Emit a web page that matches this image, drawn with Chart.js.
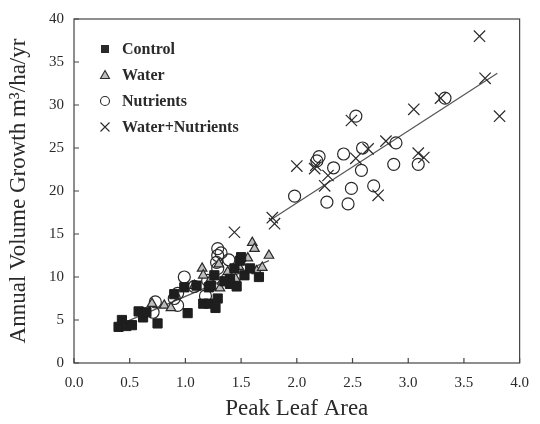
<!DOCTYPE html>
<html>
<head>
<meta charset="utf-8">
<script src="https://cdn.jsdelivr.net/npm/chart.js@4.4.1/dist/chart.umd.min.js"></script>
<style>
html, body { margin: 0; padding: 0; background: #fff; }
</style>
</head>
<body>
<canvas id="crescimento" width="540" height="424"></canvas>
<script>
// tick labels
var xTicks = ['0.0', '0.5', '1.0', '1.5', '2.0', '2.5', '3.0', '3.5', '4.0'];
var yTicks = ['0', '5', '10', '15', '20', '25', '30', '35', '40'];

// Control (filled squares)
var controlX = [0.40, 0.43, 0.47, 0.52, 0.58, 0.62, 0.65, 0.75, 0.90, 0.99, 1.02, 1.10, 1.16, 1.21, 1.27, 1.29, 1.21, 1.26, 1.40, 1.40, 1.46, 1.44, 1.49, 1.53, 1.58, 1.66, 1.50, 1.35, 1.23];
var controlY = [4.2, 5.0, 4.3, 4.4, 6.0, 5.3, 5.9, 4.6, 8.0, 8.8, 5.8, 9.0, 6.9, 6.9, 6.4, 7.5, 8.8, 10.2, 9.8, 9.2, 8.9, 11.0, 11.9, 10.2, 11.0, 10.0, 12.3, 9.5, 9.0];

// Water (triangles)
var waterX = [0.70, 0.81, 0.87, 1.08, 1.15, 1.16, 1.22, 1.31, 1.33, 1.38, 1.45, 1.48, 1.56, 1.60, 1.62, 1.64, 1.69, 1.75, 1.30];
var waterY = [6.9, 6.7, 6.4, 9.0, 11.0, 10.2, 9.6, 8.7, 9.5, 10.6, 9.8, 11.2, 12.2, 14.0, 13.3, 10.7, 11.1, 12.5, 11.5];

// Nutrients (open circles)
var nutrientsX = [0.71, 0.73, 0.90, 0.93, 0.93, 0.99, 1.08, 1.18, 1.20, 1.28, 1.29, 1.29, 1.29, 1.32, 1.39,
                  1.98, 2.18, 2.20, 2.33, 2.27, 2.46, 2.49, 2.58, 2.59, 2.42, 2.53, 2.89, 2.87, 3.09, 2.69, 3.33];
var nutrientsY = [5.9, 7.1, 7.5, 6.7, 8.1, 10.0, 8.9, 7.8, 9.6, 11.7, 11.0, 12.5, 13.3, 12.8, 12.0,
                  19.4, 23.5, 24.0, 22.7, 18.7, 18.5, 20.3, 22.4, 25.0, 24.3, 28.7, 25.6, 23.1, 23.1, 20.6, 30.8];

// Water+Nutrients (crosses)
var wnX = [1.44, 1.78, 1.80, 2.00, 2.16, 2.28, 2.25, 2.53, 2.64, 2.49, 2.80, 2.73, 3.05, 3.09, 3.14, 3.29, 3.64, 3.69, 3.82, 2.17];
var wnY = [15.2, 16.9, 16.2, 22.9, 22.6, 21.8, 20.6, 23.8, 24.9, 28.2, 25.8, 19.5, 29.5, 24.4, 23.9, 30.8, 38.0, 33.1, 28.7, 23.0];

// fitted lines (end points)
var fitLowX = [0.45, 1.75];
var fitLowY = [4.7, 11.9];
var fitHighX = [1.76, 3.80];
var fitHighY = [16.6, 33.7];

function pontos(xs, ys) {
    return xs.map(function (x, i) { return { x: x, y: ys[i] }; });
}

var tinta = '#2a2a2a';
var serif = '"Liberation Serif", "Times New Roman", serif';

// legend drawn inside the plot + box + inward ticks
var moldura = {
    id: 'moldura',
    afterDraw: function (chart) {
        var ctx = chart.ctx;
        var a = chart.chartArea;
        ctx.save();
        ctx.strokeStyle = '#444';
        ctx.lineWidth = 1.2;
        ctx.strokeRect(a.left, a.top, a.right - a.left, a.bottom - a.top);

        var sx = chart.scales.x, sy = chart.scales.y;
        ctx.beginPath();
        sx.ticks.forEach(function (t) {
            var px = sx.getPixelForValue(t.value);
            ctx.moveTo(px, a.bottom);
            ctx.lineTo(px, a.bottom - 5);
        });
        sy.ticks.forEach(function (t) {
            var py = sy.getPixelForValue(t.value);
            ctx.moveTo(a.left, py);
            ctx.lineTo(a.left + 5, py);
        });
        ctx.stroke();

        // legend
        var itens = ['Control', 'Water', 'Nutrients', 'Water+Nutrients'];
        var mx = 105, tx = 122, y0 = 49, dy = 26;
        ctx.font = 'bold 16px ' + serif;
        ctx.textBaseline = 'middle';
        itens.forEach(function (txt, i) {
            var y = y0 + i * dy;
            ctx.strokeStyle = tinta;
            ctx.lineWidth = 1.1;
            ctx.fillStyle = tinta;
            if (i === 0) {
                ctx.fillRect(mx - 4, y - 4, 8, 8);
            } else if (i === 1) {
                ctx.beginPath();
                ctx.moveTo(mx, y - 4.5);
                ctx.lineTo(mx + 4.5, y + 3.5);
                ctx.lineTo(mx - 4.5, y + 3.5);
                ctx.closePath();
                ctx.fillStyle = '#bdbdbd';
                ctx.fill();
                ctx.stroke();
            } else if (i === 2) {
                ctx.beginPath();
                ctx.arc(mx, y, 4.5, 0, Math.PI * 2);
                ctx.stroke();
            } else {
                ctx.beginPath();
                ctx.moveTo(mx - 4.5, y - 4.5);
                ctx.lineTo(mx + 4.5, y + 4.5);
                ctx.moveTo(mx + 4.5, y - 4.5);
                ctx.lineTo(mx - 4.5, y + 4.5);
                ctx.stroke();
            }
            ctx.fillStyle = tinta;
            ctx.fillText(txt, tx, y + 1);
        });
        ctx.restore();
    }
};

var ctx = document.getElementById('crescimento').getContext('2d');
var grafico = new Chart(ctx, {
    type: 'scatter',
    data: {
        datasets: [{
            label: 'Control',
            data: pontos(controlX, controlY),
            pointStyle: 'rect',
            pointRadius: 6.5,
            backgroundColor: '#1e1e1e',
            borderColor: '#1e1e1e',
            borderWidth: 1
        }, {
            label: 'Water',
            data: pontos(waterX, waterY),
            pointStyle: 'triangle',
            pointRadius: 5.5,
            backgroundColor: '#bdbdbd',
            borderColor: tinta,
            borderWidth: 1.2
        }, {
            label: 'Nutrients',
            data: pontos(nutrientsX, nutrientsY),
            pointStyle: 'circle',
            pointRadius: 6,
            backgroundColor: 'rgba(255,255,255,0)',
            borderColor: tinta,
            borderWidth: 1.2
        }, {
            label: 'Water+Nutrients',
            data: pontos(wnX, wnY),
            pointStyle: 'crossRot',
            pointRadius: 8,
            borderColor: tinta,
            borderWidth: 1.2
        }, {
            type: 'line',
            label: 'fit low',
            data: pontos(fitLowX, fitLowY),
            borderColor: '#555',
            borderWidth: 1.2,
            pointRadius: 0,
            fill: false
        }, {
            type: 'line',
            label: 'fit high',
            data: pontos(fitHighX, fitHighY),
            borderColor: '#555',
            borderWidth: 1.2,
            pointRadius: 0,
            fill: false
        }]
    },
    options: {
        responsive: false,
        animation: false,
        layout: { padding: { top: 18, right: 16, left: 0, bottom: 0 } },
        plugins: {
            legend: { display: false },
            tooltip: { enabled: false }
        },
        scales: {
            x: {
                type: 'linear',
                min: 0,
                max: 4,
                grid: { display: false, drawTicks: false },
                border: { display: false },
                ticks: {
                    stepSize: 0.5,
                    padding: 11,
                    color: tinta,
                    font: { family: serif, size: 15 },
                    callback: function (v) { return xTicks[Math.round(v * 2)]; }
                },
                title: {
                    display: true,
                    text: 'Peak Leaf Area',
                    color: tinta,
                    font: { family: serif, size: 23 },
                    padding: { top: 0, bottom: 1 }
                },
                afterFit: function (s) { s.height = 61; }
            },
            y: {
                min: 0,
                max: 40,
                grid: { display: false, drawTicks: false },
                border: { display: false },
                ticks: {
                    stepSize: 5,
                    padding: 10,
                    color: tinta,
                    font: { family: serif, size: 15 },
                    callback: function (v) { return yTicks[Math.round(v / 5)]; }
                },
                title: {
                    display: true,
                    text: 'Annual Volume Growth m\u00b3/ha/yr',
                    color: tinta,
                    font: { family: serif, size: 23 },
                    padding: { top: 5, bottom: 0 }
                },
                afterFit: function (s) { s.width = 74; }
            }
        }
    },
    plugins: [moldura]
});
</script>
</body>
</html>
